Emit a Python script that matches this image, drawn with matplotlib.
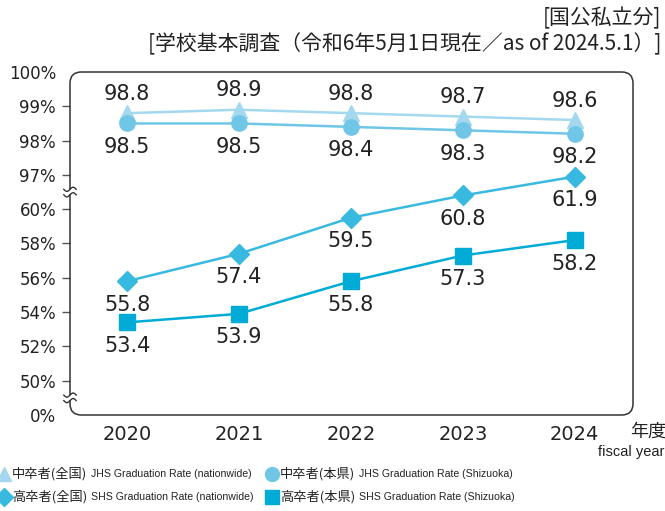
import numpy as np
import matplotlib.pyplot as plt
from matplotlib.patches import FancyBboxPatch
from matplotlib.lines import Line2D

plt.rcParams['font.family'] = ['DejaVu Sans', 'Noto Sans CJK JP']

years = [2020, 2021, 2022, 2023, 2024]
jhs_nation = [98.8, 98.9, 98.8, 98.7, 98.6]
jhs_shizuoka = [98.5, 98.5, 98.4, 98.3, 98.2]
shs_nation = [55.8, 57.4, 59.5, 60.8, 61.9]
shs_shizuoka = [53.4, 53.9, 55.8, 57.3, 58.2]

ytick_vals = [0, 50, 52, 54, 56, 58, 60, 97, 98, 99, 100]
ytick_labels = [f'{v}%' for v in ytick_vals]

# broken axis: 0-50 squeezed, 50-62 at 2%/step, 97-100 at 1%/step
brk_vals = [0, 50, 61.98, 97, 100]
brk_units = [0, 1, 6.99, 7, 10]


def fwd(v):
    return np.interp(v, brk_vals, brk_units)


def inv(u):
    return np.interp(u, brk_units, brk_vals)


c_tri = '#a3d8ee'
c_cir = '#6fc6e6'
c_dia = '#38b9df'
c_sq = '#00acd6'

fig = plt.figure(figsize=(6.65, 5.11), dpi=100)
ax = fig.add_axes([70 / 665, 96 / 511, 563 / 665, 343 / 511])
ax.set_yscale('function', functions=(fwd, inv))
ax.set_ylim(0, 100)
ax.set_xlim(2019.49, 2024.52)

ax.plot(years, jhs_nation, color=c_tri, lw=1.8, marker='^', ms=11, zorder=3)
ax.plot(years, jhs_shizuoka, color=c_cir, lw=1.8, marker='o', ms=11, zorder=3)
ax.plot(years, shs_nation, color=c_dia, lw=1.8, marker='D', ms=10, zorder=3)
ax.plot(years, shs_shizuoka, color=c_sq, lw=1.8, marker='s', ms=11, zorder=3)

lab = dict(ha='center', va='center', fontsize=15, color='#222222',
           textcoords='offset points')
for x, v in zip(years, jhs_nation):
    ax.annotate(f'{v}', (x, v), xytext=(0, 14), **lab)
for x, v in zip(years, jhs_shizuoka):
    ax.annotate(f'{v}', (x, v), xytext=(0, -17), **lab)
for x, v in zip(years, shs_nation):
    ax.annotate(f'{v}', (x, v), xytext=(0, -17), **lab)
for x, v in zip(years, shs_shizuoka):
    ax.annotate(f'{v}', (x, v), xytext=(0, -17), **lab)

for s in ax.spines.values():
    s.set_visible(False)
ax.add_patch(FancyBboxPatch((0, 0), 1, 1, boxstyle='round,pad=0,rounding_size=0.02',
                            mutation_aspect=563 / 343, transform=ax.transAxes,
                            fill=False, ec='#333333', lw=1.1, clip_on=False, zorder=2))

ax.set_yticks(ytick_vals)
ax.set_yticklabels(ytick_labels)
ax.yaxis.set_minor_locator(plt.NullLocator())
ax.tick_params(axis='y', length=6, width=1, color='#555555', labelsize=12,
               pad=4, labelcolor='#222222')
for t in ax.yaxis.get_major_ticks():
    if t.get_loc() in (0, 100):
        t.tick1line.set_visible(False)
ax.set_xticks(years)
ax.set_xticklabels([str(y) for y in years])
ax.tick_params(axis='x', length=0, labelsize=14, pad=7, labelcolor='#222222')

# wavy break marks on the left side
wx = np.linspace(-0.011, 0.011, 30)
for u in (0.5, 6.5):
    yc = u / 10
    ax.add_patch(plt.Rectangle((-0.012, yc - 0.007), 0.024, 0.014, fc='white', ec='none',
                               transform=ax.transAxes, clip_on=False, zorder=4))
    for dy in (-0.008, 0.008):
        ax.plot(wx, yc + dy + 0.006 * np.sin(wx / 0.011 * np.pi), color='#333333',
                lw=1, transform=ax.transAxes, clip_on=False, zorder=5)

fig.text(648 / 665, 1 - 432 / 511, '年度', fontsize=13, ha='center', va='center',
         family='Noto Sans CJK JP', color='#222222')
fig.text(598 / 665, 1 - 452 / 511, 'fiscal year', fontsize=10.5, ha='left', va='center',
         family='Liberation Sans', color='#222222')

fig.text(661 / 665, 1 - 18 / 511, '[国公私立分]', fontsize=15, ha='right', va='center',
         family='Noto Sans CJK JP', color='#222222')
fig.text(661 / 665, 1 - 44 / 511, '[学校基本調査（令和6年5月1日現在／as of 2024.5.1）]',
         fontsize=15, ha='right', va='center', family='Noto Sans CJK JP', color='#222222')

# legend
legend_rows = [
    (4, 474, '^', c_tri, '中卒者(全国)', 'JHS Graduation Rate (nationwide)'),
    (272, 474, 'o', c_cir, '中卒者(本県)', 'JHS Graduation Rate (Shizuoka)'),
    (4, 497, 'D', c_dia, '高卒者(全国)', 'SHS Graduation Rate (nationwide)'),
    (272, 497, 's', c_sq, '高卒者(本県)', 'SHS Graduation Rate (Shizuoka)'),
]
for px, py, m, c, jp, en in legend_rows:
    fig.add_artist(Line2D([px / 665], [1 - py / 511], marker=m, color=c,
                          ms=9 if m == 'D' else 10, transform=fig.transFigure))
    fig.text((px + 8) / 665, 1 - py / 511, jp, fontsize=9.5, ha='left', va='center',
             family='Noto Sans CJK JP', color='#222222')
    fig.text((px + 87) / 665, 1 - py / 511, en, fontsize=7.6, ha='left', va='center',
             family='Liberation Sans', color='#222222')

fig.savefig('out.png', dpi=100)
